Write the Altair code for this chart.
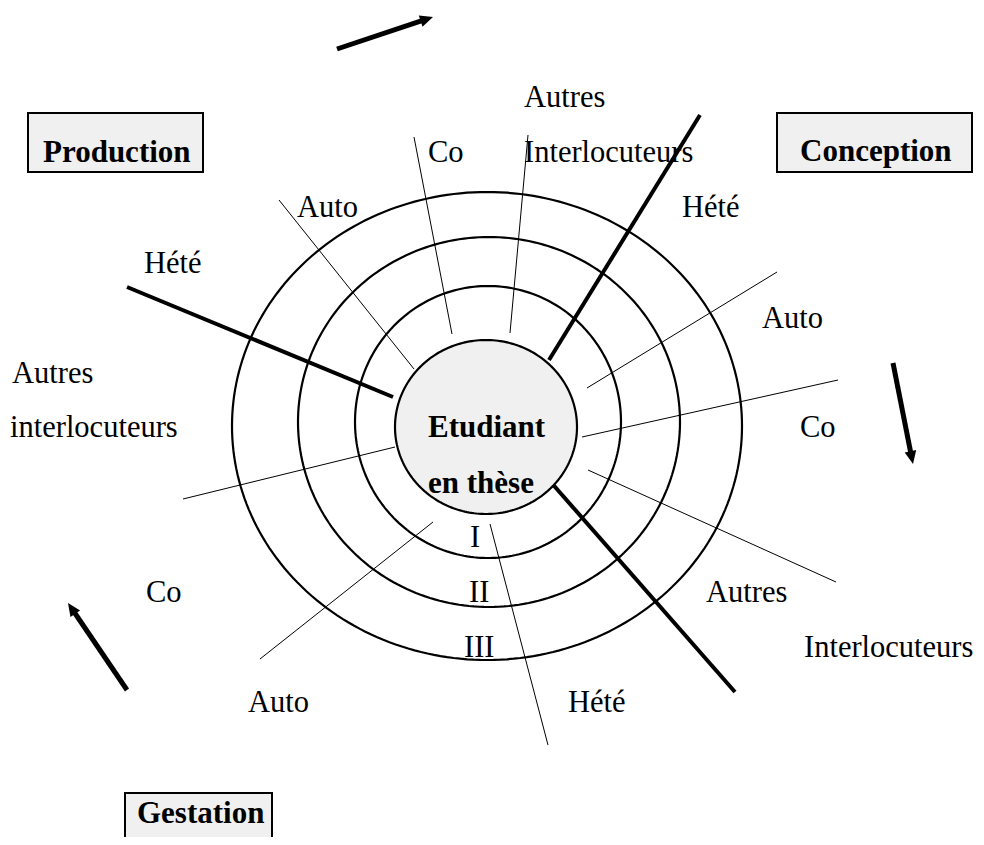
import altair as alt
import pandas as pd
import numpy as np

# ---- rings (III outer, II, I, centre disc) : centre and radii in page pixels
ring_names = ["III", "II", "I", "centre"]
ring_cx = [487, 489, 488, 486]
ring_cy = [426, 422, 422, 427]
ring_rx = [255, 191, 133, 91]
ring_ry = [234, 185, 136, 87]

# ---- thin spokes
thin_x1 = [414, 528, 279, 777, 838, 836, 395, 433, 490]
thin_y1 = [137, 135, 200, 272, 380, 582, 447, 522, 524]
thin_x2 = [452, 510, 414, 587, 582, 588, 183, 260, 548]
thin_y2 = [334, 333, 369, 388, 437, 470, 499, 659, 745]

# ---- thick spokes (phase separators)
thick_x1 = [127, 700, 549]
thick_y1 = [287, 115, 480]
thick_x2 = [393, 549, 735]
thick_y2 = [397, 360, 692]

# ---- rotation arrows (start -> tip)
arrow_x1 = [337, 893, 127]
arrow_y1 = [49, 363, 690]
arrow_x2 = [433, 913, 68]
arrow_y2 = [17, 464, 603]

# ---- labels (regular)
label_text = ["Autres", "Interlocuteurs", "Co", "Auto", "Hété", "Hété", "Auto",
              "Autres", "interlocuteurs", "Co", "I", "II", "III", "Co", "Autres",
              "Interlocuteurs", "Auto", "Hété"]
label_x = [524, 524, 428, 297, 682, 144, 762, 12, 10, 800, 470, 469, 464, 146, 706, 804, 248, 568]
label_y = [107, 162, 162, 217, 217, 273, 328, 383, 437, 437, 547, 602, 657, 602, 602, 657, 712, 712]

# ---- labels (bold)
bold_text = ["Production", "Conception", "Etudiant", "en thèse", "Gestation"]
bold_x = [43, 800, 428, 428, 137]
bold_y = [162, 161, 437, 493, 823]

# ---- boxes
box_x1 = [28, 777, 125]
box_y1 = [113, 113, 793]
box_x2 = [203, 972, 272]
box_y2 = [172, 172, 860]

FONT = "Liberation Serif"
W, H = 968, 829
xs = alt.Scale(domain=[8, 8 + W], nice=False, zero=False)
ys = alt.Scale(domain=[8, 8 + H], nice=False, zero=False, reverse=True)


def X(f):
    return alt.X(f, type="quantitative", scale=xs, axis=None)


def Y(f):
    return alt.Y(f, type="quantitative", scale=ys, axis=None)


# ring outlines
rows = []
angles = np.linspace(0, 2 * np.pi, 241)
for n, cx, cy, rx, ry in zip(ring_names, ring_cx, ring_cy, ring_rx, ring_ry):
    for i, t in enumerate(angles):
        rows.append({"ring": n, "i": i, "x": cx + rx * np.cos(t), "y": cy + ry * np.sin(t)})
ring_df = pd.DataFrame(rows)

# centre disc fill
fill_rows = []
for i, t in enumerate(np.linspace(0, np.pi, 121)):
    fill_rows.append({"x": ring_cx[3] + ring_rx[3] * np.cos(t),
                      "y": ring_cy[3] - ring_ry[3] * np.sin(t),
                      "y2": ring_cy[3] + ring_ry[3] * np.sin(t)})
fill_df = pd.DataFrame(fill_rows)

thin_df = pd.DataFrame({"x": thin_x1, "y": thin_y1, "x2": thin_x2, "y2": thin_y2})
thick_df = pd.DataFrame({"x": thick_x1, "y": thick_y1, "x2": thick_x2, "y2": thick_y2})
arrow_df = pd.DataFrame({"x": arrow_x1, "y": arrow_y1, "x2": arrow_x2, "y2": arrow_y2})
label_df = pd.DataFrame({"t": label_text, "x": label_x, "y": label_y})
bold_df = pd.DataFrame({"t": bold_text, "x": bold_x, "y": bold_y})
box_df = pd.DataFrame({"x": box_x1, "y": box_y1, "x2": box_x2, "y2": box_y2})

boxes = alt.Chart(box_df).mark_rect(fill="#f0f0f0", stroke="black", strokeWidth=2).encode(
    x=X("x"), x2="x2", y=Y("y"), y2="y2")

thin = alt.Chart(thin_df).mark_rule(color="black", strokeWidth=1).encode(
    x=X("x"), x2="x2", y=Y("y"), y2="y2")

thick = alt.Chart(thick_df).mark_rule(color="black", strokeWidth=4).encode(
    x=X("x"), x2="x2", y=Y("y"), y2="y2")

rings = alt.Chart(ring_df[ring_df.ring != "centre"]).mark_line(color="black", strokeWidth=2.2).encode(
    x=X("x"), y=Y("y"), detail="ring:N", order="i:Q")

disc = alt.Chart(fill_df).mark_area(color="#f0f0f0", orient="vertical").encode(
    x=X("x"), y=Y("y"), y2="y2")

disc_line = alt.Chart(ring_df[ring_df.ring == "centre"]).mark_line(color="black", strokeWidth=2.2).encode(
    x=X("x"), y=Y("y"), order="i:Q")

arrow_base = alt.Chart(arrow_df).transform_calculate(
    len="sqrt(pow(datum.x2-datum.x,2)+pow(datum.y2-datum.y,2))",
    xe="datum.x2-(datum.x2-datum.x)/datum.len*10",
    ye="datum.y2-(datum.y2-datum.y)/datum.len*10",
    ang="(atan2(datum.x2-datum.x, -(datum.y2-datum.y))*180/PI+360)%360",
)
shafts = arrow_base.mark_rule(color="black", strokeWidth=5).encode(
    x=X("x"), x2="xe:Q", y=Y("y"), y2="ye:Q")
heads = arrow_base.mark_point(
    shape="M0,0 L0.45,1 L-0.45,1 Z", filled=True, color="black", opacity=1, size=676
).encode(x=X("x2"), y=Y("y2"), angle=alt.Angle("ang:Q", scale=None))

labels = alt.Chart(label_df).mark_text(
    font=FONT, fontSize=30.5, align="left", baseline="alphabetic", color="black"
).encode(x=X("x"), y=Y("y"), text="t:N")

bold = alt.Chart(bold_df).mark_text(
    font=FONT, fontSize=31, fontWeight="bold", align="left", baseline="alphabetic", color="black"
).encode(x=X("x"), y=Y("y"), text="t:N")

chart = alt.layer(
    boxes, thin, thick, rings, disc, disc_line, shafts, heads, labels, bold
).properties(
    width=W, height=H, padding=0, autosize=alt.AutoSizeParams(type="none")
).configure_view(strokeWidth=0)

chart.save("out.html", embed_options={"renderer": "svg", "actions": False})
